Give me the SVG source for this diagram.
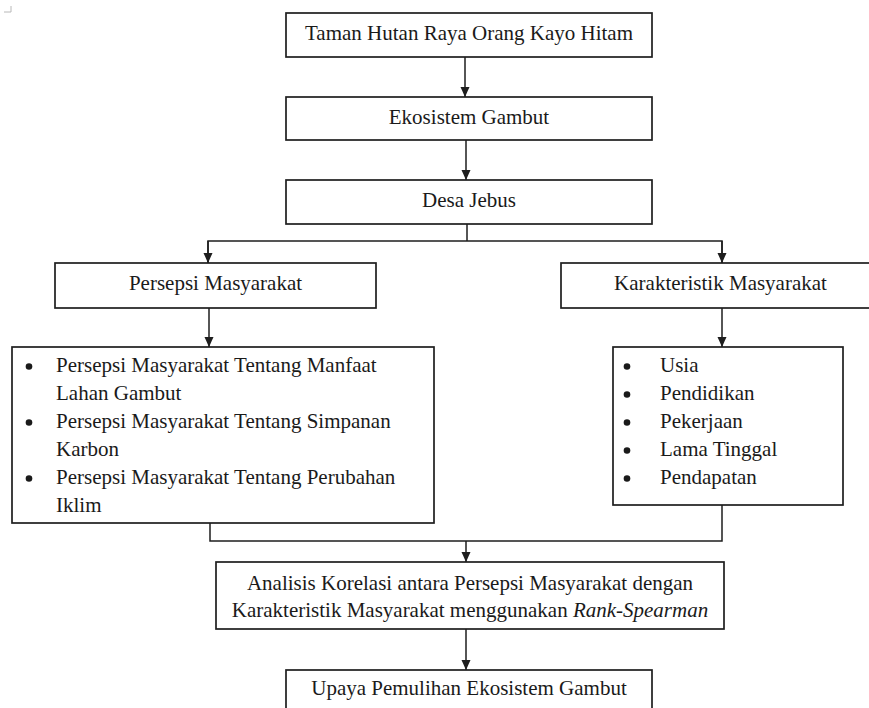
<svg xmlns="http://www.w3.org/2000/svg" width="869" height="708" viewBox="0 0 869 708">
<style>
  .box { fill: #ffffff; stroke: #1e1e1e; stroke-width: 1.7; }
  .t { font-family: "Liberation Serif", "Times New Roman", serif; font-size: 21px; fill: #1a1a1a; }
  .c { text-anchor: middle; }
  .bullet { fill: #1a1a1a; }
  .conn { fill: none; stroke: #1e1e1e; stroke-width: 1.5; }
  .mark { fill: none; stroke: #b8b8b8; stroke-width: 1; }
</style>
<defs>
  <marker id="arr" markerUnits="userSpaceOnUse" markerWidth="10" markerHeight="10" viewBox="0 0 10 10" refX="10" refY="5" orient="auto">
    <path d="M0,0.5 L10,5 L0,9.5 z" fill="#1e1e1e"/>
  </marker>
  <circle id="dot" r="3.3" class="bullet"/>
</defs>
<rect width="869" height="708" fill="#ffffff"/>
<path class="mark" d="M4,12 H11 V6"/>

<g id="connectors">
  <line class="conn" x1="465" y1="57" x2="465" y2="97" marker-end="url(#arr)"/>
  <line class="conn" x1="466" y1="140" x2="466" y2="180" marker-end="url(#arr)"/>
  <polyline class="conn" points="467,224 467,241"/>
  <polyline class="conn" points="208,263 208,241 722,241 722,263"/>
  <line class="conn" x1="208" y1="241" x2="208" y2="263" marker-end="url(#arr)"/>
  <line class="conn" x1="722" y1="241" x2="722" y2="263" marker-end="url(#arr)"/>
  <line class="conn" x1="209" y1="308" x2="209" y2="347" marker-end="url(#arr)"/>
  <line class="conn" x1="722" y1="308" x2="722" y2="347" marker-end="url(#arr)"/>
  <polyline class="conn" points="210,523 210,541 722,541 722,505"/>
  <line class="conn" x1="466" y1="541" x2="466" y2="562" marker-end="url(#arr)"/>
  <line class="conn" x1="466" y1="629" x2="466" y2="670" marker-end="url(#arr)"/>
</g>

<g id="taman">
  <rect class="box" x="286" y="13" width="366" height="44"/>
  <text class="t c" x="469" y="40">Taman Hutan Raya Orang Kayo Hitam</text>
</g>
<g id="ekosistem">
  <rect class="box" x="286" y="97" width="366" height="43"/>
  <text class="t c" x="469" y="124">Ekosistem Gambut</text>
</g>
<g id="desa">
  <rect class="box" x="286" y="180" width="366" height="44"/>
  <text class="t c" x="469" y="207">Desa Jebus</text>
</g>
<g id="persepsi">
  <rect class="box" x="55" y="263" width="321" height="45"/>
  <text class="t c" x="215.5" y="290">Persepsi Masyarakat</text>
</g>
<g id="karakteristik">
  <rect class="box" x="561" y="263" width="320" height="45"/>
  <text class="t c" x="720.5" y="290">Karakteristik Masyarakat</text>
</g>
<g id="persepsi-list">
  <rect class="box" x="12" y="347" width="422" height="176"/>
  <use href="#dot" x="29" y="366.5"/>
  <use href="#dot" x="29" y="422.5"/>
  <use href="#dot" x="29" y="478.5"/>
  <text class="t" x="56" y="372">Persepsi Masyarakat Tentang Manfaat</text>
  <text class="t" x="56" y="400">Lahan Gambut</text>
  <text class="t" x="56" y="428">Persepsi Masyarakat Tentang Simpanan</text>
  <text class="t" x="56" y="456">Karbon</text>
  <text class="t" x="56" y="484">Persepsi Masyarakat Tentang Perubahan</text>
  <text class="t" x="56" y="512">Iklim</text>
</g>
<g id="karakteristik-list">
  <rect class="box" x="613" y="347" width="230" height="158"/>
  <use href="#dot" x="627" y="366.5"/>
  <use href="#dot" x="627" y="394.5"/>
  <use href="#dot" x="627" y="422.5"/>
  <use href="#dot" x="627" y="450.5"/>
  <use href="#dot" x="627" y="478.5"/>
  <text class="t" x="660" y="372">Usia</text>
  <text class="t" x="660" y="400">Pendidikan</text>
  <text class="t" x="660" y="428">Pekerjaan</text>
  <text class="t" x="660" y="456">Lama Tinggal</text>
  <text class="t" x="660" y="484">Pendapatan</text>
</g>
<g id="analisis">
  <rect class="box" x="216" y="562" width="508" height="67"/>
  <text class="t c" x="470" y="590">Analisis Korelasi antara Persepsi Masyarakat dengan</text>
  <text class="t c" x="470" y="617">Karakteristik Masyarakat menggunakan <tspan font-style="italic">Rank-Spearman</tspan></text>
</g>
<g id="upaya">
  <rect class="box" x="286" y="670" width="366" height="50"/>
  <text class="t c" x="469" y="695">Upaya Pemulihan Ekosistem Gambut</text>
</g>
</svg>
